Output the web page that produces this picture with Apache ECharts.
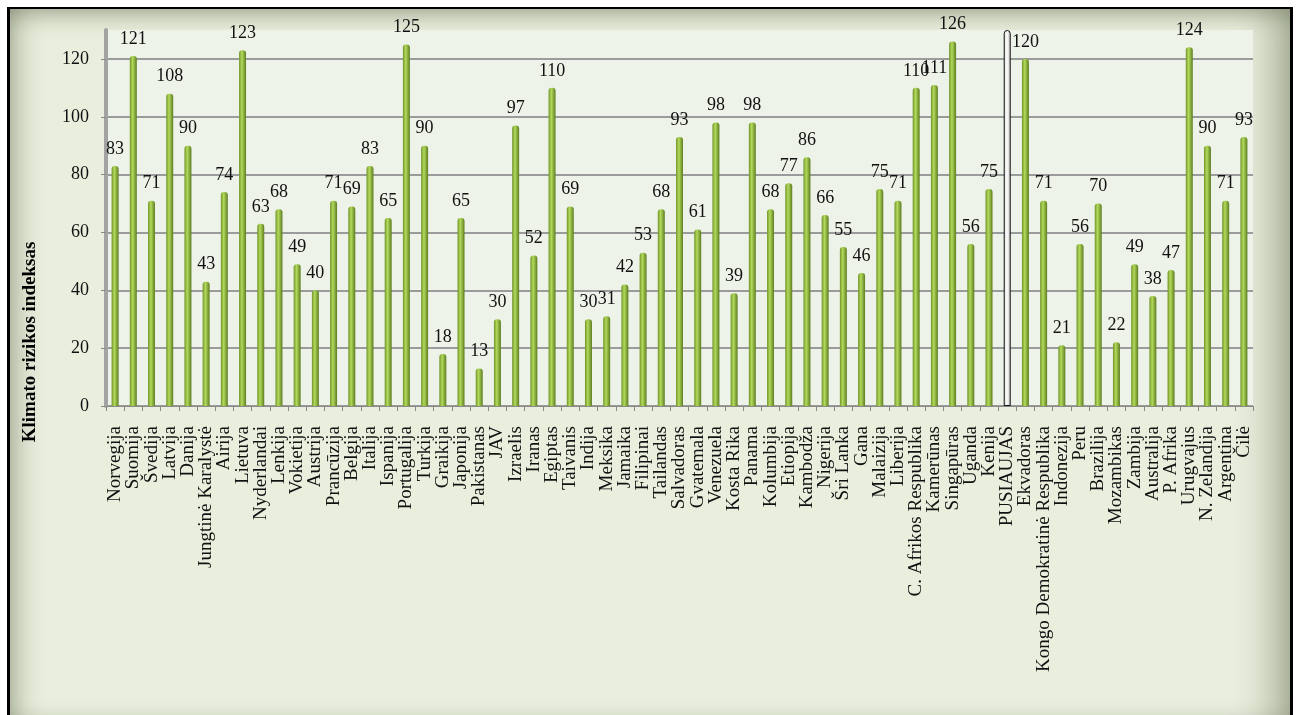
<!DOCTYPE html>
<html>
<head>
<meta charset="utf-8">
<script src="https://cdn.jsdelivr.net/npm/echarts@6/dist/echarts.min.js"></script>
<style>
html, body { margin: 0; padding: 0; background: #fff; }
#frame {
  position: absolute; left: 7px; top: 7px; width: 1280px; height: 720px;
  border-left: 3px solid #000; border-top: 2px solid #000; border-right: 3px solid #000;
  background: #e9eedd;
  box-shadow: inset 0 18px 22px -12px rgba(90,100,70,0.4), inset 22px 0 26px -14px rgba(90,100,70,0.4),
              inset -36px 0 36px -18px rgba(90,100,70,0.45), inset 0 -20px 20px -12px rgba(90,100,70,0.3);
}
#main { position: absolute; left: 0; top: 0; width: 1298px; height: 715px; }
</style>
</head>
<body>
<div id="frame"></div>
<div id="main"></div>
<script>
// šalys (kategorijos)
var salys = ['Norvegija','Suomija','Švedija','Latvija','Danija','Jungtinė Karalystė','Airija','Lietuva',
  'Nyderlandai','Lenkija','Vokietija','Austrija','Prancūzija','Belgija','Italija','Ispanija','Portugalija',
  'Turkija','Graikija','Japonija','Pakistanas','JAV','Izraelis','Iranas','Egiptas','Taivanis','Indija',
  'Meksika','Jamaika','Filipinai','Tailandas','Salvadoras','Gvatemala','Venezuela','Kosta Rika','Panama',
  'Kolumbija','Etiopija','Kambodža','Nigerija','Šri Lanka','Gana','Malaizija','Liberija',
  'C. Afrikos Respublika','Kamerūnas','Singapūras','Uganda','Kenija','PUSIAUJAS','Ekvadoras',
  'Kongo Demokratinė Respublika','Indonezija','Peru','Brazilija','Mozambikas','Zambija','Australija',
  'P. Afrika','Urugvajus','N. Zelandija','Argentina','Čilė'];
// klimato rizikos indeksas
var reiksmes = [83,121,71,108,90,43,74,123,63,68,49,40,71,69,83,65,125,90,18,65,13,30,97,52,110,69,30,
  31,42,53,68,93,61,98,39,98,68,77,86,66,55,46,75,71,110,111,126,56,75,130,120,71,21,56,70,22,49,38,
  47,124,90,71,93];
var pusiaujas = 'PUSIAUJAS';

var zalia = new echarts.graphic.LinearGradient(0, 0, 1, 0, [
  {offset: 0, color: '#6f9428'},
  {offset: 0.4, color: '#b3da5c'},
  {offset: 1, color: '#5c7d1f'}
]);
var balta = new echarts.graphic.LinearGradient(0, 0, 1, 0, [
  {offset: 0, color: '#cfcfcf'},
  {offset: 0.45, color: '#ffffff'},
  {offset: 1, color: '#bdbdbd'}
]);

var duomenys = [];
for (var i = 0; i < salys.length; i++) {
  if (salys[i] == pusiaujas) {
    duomenys.push({value: reiksmes[i], itemStyle: {color: balta, borderColor: '#111', borderWidth: 1},
      label: {show: false}});
  } else {
    duomenys.push({value: reiksmes[i]});
  }
}

var myChart = echarts.init(document.getElementById('main'));
var option = {
  backgroundColor: 'transparent',
  animation: false,
  textStyle: {fontFamily: 'Liberation Serif'},
  grid: {left: 106, right: 45, top: 30, bottom: 309, show: true, backgroundColor: '#eef3e9', borderWidth: 0},
  graphic: [{
    type: 'text', x: 30, y: 342, rotation: Math.PI / 2,
    style: {text: 'Klimato rizikos indeksas', font: 'bold 19px "Liberation Serif"', fill: '#000',
      align: 'center', verticalAlign: 'middle'}
  }],
  xAxis: {
    type: 'category',
    data: salys,
    axisLine: {lineStyle: {color: '#8a8a8a', width: 1}},
    axisTick: {show: true, length: 5, lineStyle: {color: '#8a8a8a'}},
    axisLabel: {rotate: 90, interval: 0, margin: 20, fontSize: 19, color: '#111', fontFamily: 'Liberation Serif'}
  },
  yAxis: {
    type: 'value',
    min: 0, max: 130, interval: 20,
    axisLine: {show: true, lineStyle: {color: '#a3a3a3', width: 4}},
    axisTick: {show: true, length: 5, lineStyle: {color: '#8a8a8a'}},
    axisLabel: {margin: 17, fontSize: 18, color: '#111', fontFamily: 'Liberation Serif',
      showMaxLabel: false},
    splitLine: {showMaxLine: false, lineStyle: {color: '#9b9b9b', width: 2}}
  },
  series: [{
    type: 'bar',
    barWidth: 7,
    data: duomenys,
    itemStyle: {color: zalia, borderRadius: [3, 3, 0, 0]},
    label: {show: true, position: 'top', distance: 8, fontSize: 18, color: '#111', fontFamily: 'Liberation Serif'}
  }]
};
myChart.setOption(option);
</script>
</body>
</html>
